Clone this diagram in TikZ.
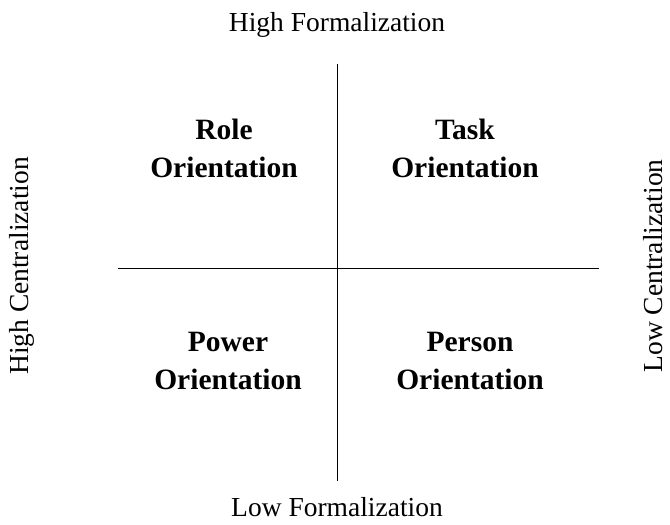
\documentclass[tikz,border=0pt]{standalone}
\usepackage{fontspec}
\setmainfont{Liberation Serif}
\begin{document}
\begin{tikzpicture}[x=1pt,y=-1pt,
    axislabel/.style={font=\fontsize{27.5}{33}\selectfont},
    quadlabel/.style={font=\fontsize{29.5}{38}\selectfont\bfseries,align=center}]
      \useasboundingbox (0,0) rectangle (670,525);
      % the two axes
      \coordinate (top) at (337,64);
      \coordinate (bottom) at (337,481);
      \coordinate (left) at (118,268);
      \coordinate (right) at (599,268);
      \draw[line width=1pt] (top)--(bottom);
      \draw[line width=1pt] (left)--(right);
      % axis labels
      \node[axislabel,anchor=base] (hiform) at (337,31) {High Formalization};
      \node[axislabel,anchor=base] (loform) at (337,516) {Low Formalization};
      \node[axislabel,rotate=90] (hicent) at (22,266) {High Centralization};
      \node[axislabel,rotate=90] (locent) at (653,266) {Low Centralization};
      % quadrants
      \node[quadlabel] (role) at (224,148) {Role\\Orientation};
      \node[quadlabel] (task) at (465,148) {Task\\Orientation};
      \node[quadlabel] (power) at (228,361) {Power\\Orientation};
      \node[quadlabel] (person) at (470,361) {Person\\Orientation};
\end{tikzpicture}
\end{document}
